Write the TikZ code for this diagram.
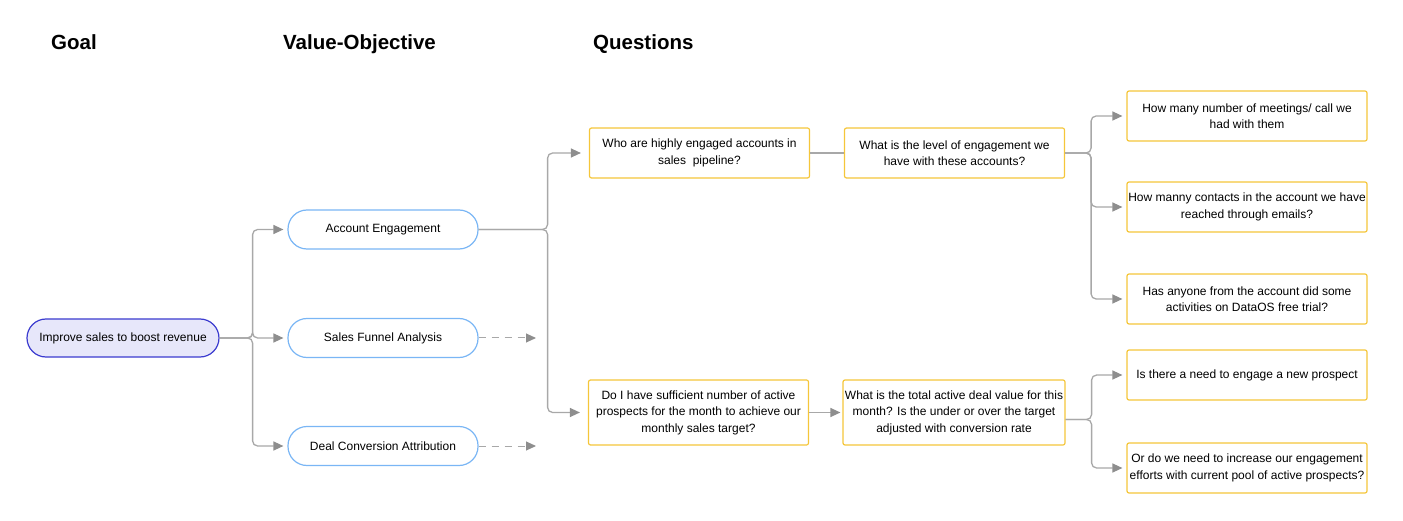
\documentclass[tikz,border=0pt]{standalone}
\usepackage{fontspec}
\setmainfont{Liberation Sans}
\usetikzlibrary{positioning,arrows.meta}
\definecolor{linegray}{HTML}{A8A8A8}
\definecolor{tipgray}{HTML}{8E8E8E}
\definecolor{goalblue}{HTML}{3B3BCF}
\definecolor{goalfill}{HTML}{E7E7FA}
\definecolor{valblue}{HTML}{7AB6F5}
\definecolor{qyellow}{HTML}{F5C63A}
\tikzset{head/.style={anchor=base west,inner sep=0pt,font=\fontsize{20.5}{24}\selectfont\bfseries}}
\tikzset{txt/.style={align=center,inner sep=0pt,font=\fontsize{12}{16.5}\selectfont}}
\tikzset{goalbox/.style={txt,draw=goalblue,fill=goalfill,line width=1.2pt,rounded corners=19pt,minimum width=192pt,minimum height=38pt}}
\tikzset{valbox/.style={txt,draw=valblue,fill=white,line width=1.2pt,rounded corners=19pt,minimum width=190pt,minimum height=39pt}}
\tikzset{qbox/.style={txt,draw=qyellow,fill=white,line width=1.2pt,rounded corners=2pt,minimum width=220pt,minimum height=50pt}}
\tikzset{rbox/.style={qbox,minimum width=240pt}}
\tikzset{link/.style={draw=linegray,line width=1.3pt,rounded corners=5pt,-{Triangle[length=10pt,width=9pt,color=tipgray]}}}
\tikzset{dashlink/.style={link,dash pattern=on 7pt off 6pt,line width=1pt}}
\tikzset{plainlink/.style={draw=linegray,line width=1.3pt}}

\begin{document}
\begin{tikzpicture}[x=1pt,y=-1pt]
  \useasboundingbox (0,0) rectangle (1403,521);
  % column titles
  \node[head] (tgoal) at (51,50) {Goal};
  \node[head] (tval) at (283,50) {Value-Objective};
  \node[head] (tques) at (593,50) {Questions};
  % goal and value objectives
  \node[goalbox] (goal) at (123,338) {Improve sales to boost revenue};
  \node[valbox] (acc) at (383,229.5) {Account Engagement};
  \node[valbox] (funnel) at (383,338) {Sales Funnel Analysis};
  \node[valbox] (deal) at (383,446) {Deal Conversion Attribution};
  \coordinate (funnelend) at (536,338);
  \coordinate (dealend) at (536,446);
  % questions
  \node[qbox] (qa) at (699.5,153) {Who are highly engaged accounts in\\sales~ pipeline?};
  \node[qbox] (qab) at (954.5,153) {What is the level of engagement we\\have with these accounts?};
  \node[qbox,minimum height=65pt] (qc) at (698.5,412.5) {Do I have sufficient number of active\\prospects for the month to achieve our\\monthly sales target?};
  \node[qbox,minimum width=222pt,minimum height=65pt] (qcd) at (954,412.5) {What is the total active deal value for this\\month? Is the under or over the target\\adjusted with conversion rate};
  \node[rbox] (ra) at (1247,116) {How many number of meetings/ call we\\had with them};
  \node[rbox] (rb) at (1247,207) {How manny contacts in the account we have\\reached through emails?};
  \node[rbox] (rc) at (1247,299) {Has anyone from the account did some\\activities on DataOS free trial?};
  \node[rbox] (rd) at (1247,375) {Is there a need to engage a new prospect};
  \node[rbox] (re) at (1247,468) {Or do we need to increase our engagement\\efforts with current pool of active prospects?};
  % connectors
  \foreach \n in {acc,funnel,deal}
    \draw[link,shorten >=4pt] (goal.east) -- ++(33,0) |- (\n.west);
  \draw[dashlink] (funnel.east) -- (funnelend);
  \draw[dashlink] (deal.east) -- (dealend);
  \foreach \n in {qa,qc}
    \draw[link,shorten >=8pt] (acc.east) -- ++(69,0) |- (\n.west);
  \draw[plainlink] (qa) -- (qab);
  \draw[link,shorten >=2pt] (qc) -- (qcd);
  \foreach \n in {ra,rb,rc}
    \draw[link,shorten >=4pt] (qab.east) -- ++(26,0) |- (\n.west);
  \foreach \n in {rd,re}
    \draw[link,shorten >=4pt] ([yshift=-7pt]qcd.east) -- ++(26,0) |- (\n.west);
\end{tikzpicture}
\end{document}
